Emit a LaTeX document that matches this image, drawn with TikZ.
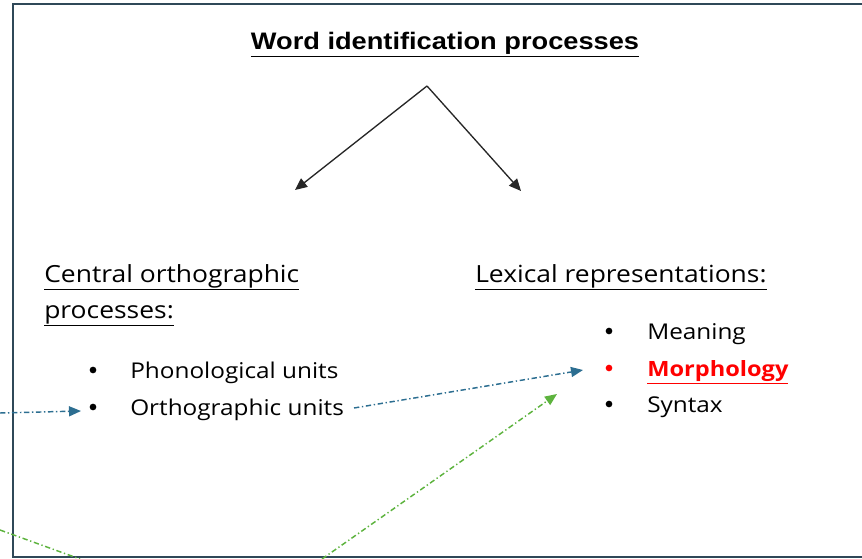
\documentclass[tikz,border=0pt]{standalone}
\usepackage{fontspec}
\setmainfont[FakeStretch=1.12]{Open Sans}
\newfontfamily\titlefont[FakeStretch=1.14]{Liberation Sans}
\usetikzlibrary{arrows.meta,positioning}

\definecolor{framegray}{HTML}{2F4858}
\definecolor{linkblue}{HTML}{2C6E91}
\definecolor{linkgreen}{HTML}{5DB33E}
\definecolor{morphred}{HTML}{FF0000}

\tikzset{
  heading/.style={anchor=base west, inner sep=0pt, font=\fontsize{17.7}{22}\selectfont},
  item/.style={anchor=base west, inner sep=0pt, font=\fontsize{16.3}{20}\selectfont},
  bulletdot/.style={circle, fill, inner sep=0pt, minimum size=5pt},
  branch/.style={-{Triangle[length=9pt,width=8pt]}, line width=1pt, black!85},
  linkline/.style={-{Triangle[length=9pt,width=7.5pt]}, line width=1.1pt,
    dash pattern=on 4pt off 2pt on 1pt off 2pt},
  bluelink/.style={linkline, linkblue},
  greenlink/.style={linkline, linkgreen}
}

\begin{document}
\begin{tikzpicture}[x=0.75pt,y=-0.75pt]
  \useasboundingbox (0,0) rectangle (862,559);
  \clip (0,0) rectangle (862,559);
  % frame
  \draw[framegray, line width=1.5pt] (13,4.5) rectangle (880,556.5);

  % title
  \node[anchor=base, inner sep=0pt, font=\titlefont\bfseries\fontsize{17.9}{22}\selectfont]
    (title) at (445,49.5) {\underline{Word identification processes}};
  \coordinate (apex) at (427,86);
  \coordinate (lefttip) at (295,190);
  \coordinate (righttip) at (521,191);
  \draw[branch] (apex) -- (lefttip);
  \draw[branch] (apex) -- (righttip);

  % left column
  \node[heading] (central) at (44,282) {\underline{Central orthographic}};
  \node[heading] (processes) at (44,318) {\underline{processes:}};
  \node[bulletdot] (phondot) at (93,370) {};
  \node[item] (phon) at (130,378) {Phonological units};
  \node[bulletdot] (orthdot) at (93,407) {};
  \node[item] (orth) at (130,415) {Orthographic units};

  % right column
  \node[heading] (lexical) at (475,282) {\underline{Lexical representations:}};
  \node[bulletdot] (meandot) at (609,331) {};
  \node[item] (meaning) at (647,339) {Meaning};
  \node[bulletdot, morphred] (morphdot) at (609,368) {};
  \node[item, morphred, font=\bfseries\fontsize{15.8}{20}\selectfont] (morph) at (647,376) {\underline{Morphology}};
  \node[bulletdot] (syndot) at (609,404) {};
  \node[item] (syntax) at (647,412) {Syntax};

  % links
  \coordinate (bluein) at (0,413);
  \coordinate (greenin) at (322,559);
  \coordinate (greenleft) at (0,530);
  \coordinate (greenout) at (80,559);
  \draw[bluelink] (bluein) -- (81,411);
  \draw[bluelink] (354,408) -- (583,370);
  \draw[greenlink] (greenin) -- (557,394);
  \draw[greenlink, -] (greenleft) -- (greenout);
\end{tikzpicture}
\end{document}
